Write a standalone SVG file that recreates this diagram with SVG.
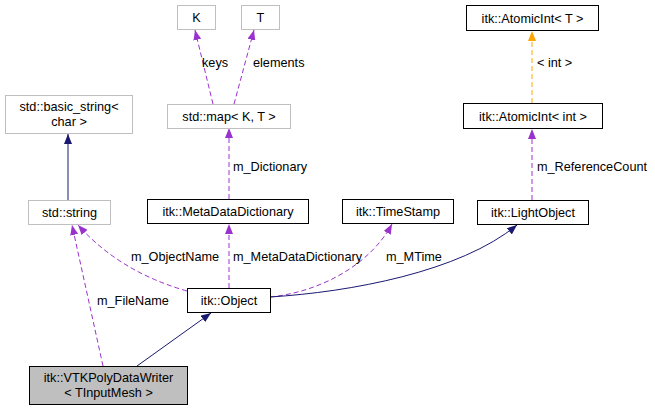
<svg xmlns="http://www.w3.org/2000/svg" width="655" height="411" viewBox="0 0 655 411">
<style>
text{font-family:"Liberation Sans",Arial,sans-serif;font-size:12.7px;fill:#000}
.n text{text-anchor:middle}
.doc{fill:#fff;stroke:#000;stroke-width:1}
.und{fill:#fff;stroke:#bfbfbf;stroke-width:1}
.cur{fill:#bfbfbf;stroke:#000;stroke-width:1}
.e{fill:none;stroke-width:1}
.inh{stroke:#191970}
.use{stroke:#9a32cd;stroke-dasharray:5,3}
.tpl{stroke:#ffa500;stroke-dasharray:5,3}
</style>
<defs>
<marker id="aN" markerUnits="userSpaceOnUse" markerWidth="11" markerHeight="8" refX="10" refY="4" orient="auto"><path d="M0,0 L10,4 L0,8 z" fill="#191970"/></marker>
<marker id="aP" markerUnits="userSpaceOnUse" markerWidth="11" markerHeight="8" refX="10" refY="4" orient="auto"><path d="M0,0 L10,4 L0,8 z" fill="#9a32cd"/></marker>
<marker id="aO" markerUnits="userSpaceOnUse" markerWidth="11" markerHeight="8" refX="10" refY="4" orient="auto"><path d="M0,0 L10,4 L0,8 z" fill="#ffa500"/></marker>
</defs>
<g id="connectors">
<path class="e inh" d="M68,200 L68,134" marker-end="url(#aN)"/>
<path class="e use" d="M103,366 L72,225" marker-end="url(#aP)"/>
<path class="e use" d="M187,291 Q120,272 78,225" marker-end="url(#aP)"/>
<path class="e inh" d="M137,366 L211,313" marker-end="url(#aN)"/>
<path class="e use" d="M229,288 L229,224" marker-end="url(#aP)"/>
<path class="e use" d="M270,297 C320,292 370,265 392,224" marker-end="url(#aP)"/>
<path class="e inh" d="M270,297 C350,292 460,272 517,225" marker-end="url(#aN)"/>
<path class="e use" d="M229,199 L229,128" marker-end="url(#aP)"/>
<path class="e use" d="M213,104 L195,30" marker-end="url(#aP)"/>
<path class="e use" d="M234,104 L254,30" marker-end="url(#aP)"/>
<path class="e use" d="M532,200 L532,129" marker-end="url(#aP)"/>
<path class="e tpl" d="M532,103 L532,31" marker-end="url(#aO)"/>
<text x="202" y="67">keys</text>
<text x="253" y="67">elements</text>
<text x="233" y="171">m_Dictionary</text>
<text x="537" y="67">&lt; int &gt;</text>
<text x="537" y="171">m_ReferenceCount</text>
<text x="131" y="261">m_ObjectName</text>
<text x="233" y="261">m_MetaDataDictionary</text>
<text x="386" y="261">m_MTime</text>
<text x="97" y="305">m_FileName</text>
</g>
<g id="n-writer" class="n"><rect class="cur" x="29.5" y="366.5" width="158" height="38"/><text x="108.5" y="382">itk::VTKPolyDataWriter</text><text x="108.5" y="397">&lt; TInputMesh &gt;</text></g>
<g id="n-object" class="n"><rect class="doc" x="187.5" y="288.5" width="83" height="24"/><text x="229" y="305">itk::Object</text></g>
<g id="n-string" class="n"><rect class="und" x="28.5" y="200.5" width="82" height="24"/><text x="69.5" y="217">std::string</text></g>
<g id="n-basic" class="n"><rect class="und" x="5.5" y="95.5" width="127" height="38"/><text x="69" y="111">std::basic_string&lt;</text><text x="69" y="126">char &gt;</text></g>
<g id="n-mdd" class="n"><rect class="doc" x="147.5" y="199.5" width="161" height="24"/><text x="228" y="216">itk::MetaDataDictionary</text></g>
<g id="n-map" class="n"><rect class="und" x="167.5" y="104.5" width="123" height="24"/><text x="229" y="121">std::map&lt; K, T &gt;</text></g>
<g id="n-K" class="n"><rect class="und" x="177.5" y="5.5" width="38" height="24"/><text x="196.5" y="22">K</text></g>
<g id="n-T" class="n"><rect class="und" x="241.5" y="5.5" width="38" height="24"/><text x="260.5" y="22">T</text></g>
<g id="n-ts" class="n"><rect class="doc" x="342.5" y="199.5" width="111" height="24"/><text x="398" y="216">itk::TimeStamp</text></g>
<g id="n-lo" class="n"><rect class="doc" x="477.5" y="200.5" width="111" height="24"/><text x="533" y="217">itk::LightObject</text></g>
<g id="n-aiint" class="n"><rect class="doc" x="463.5" y="103.5" width="139" height="25"/><text x="533" y="121">itk::AtomicInt&lt; int &gt;</text></g>
<g id="n-aiT" class="n"><rect class="doc" x="466.5" y="5.5" width="132" height="25"/><text x="532.5" y="23">itk::AtomicInt&lt; T &gt;</text></g>
</svg>
